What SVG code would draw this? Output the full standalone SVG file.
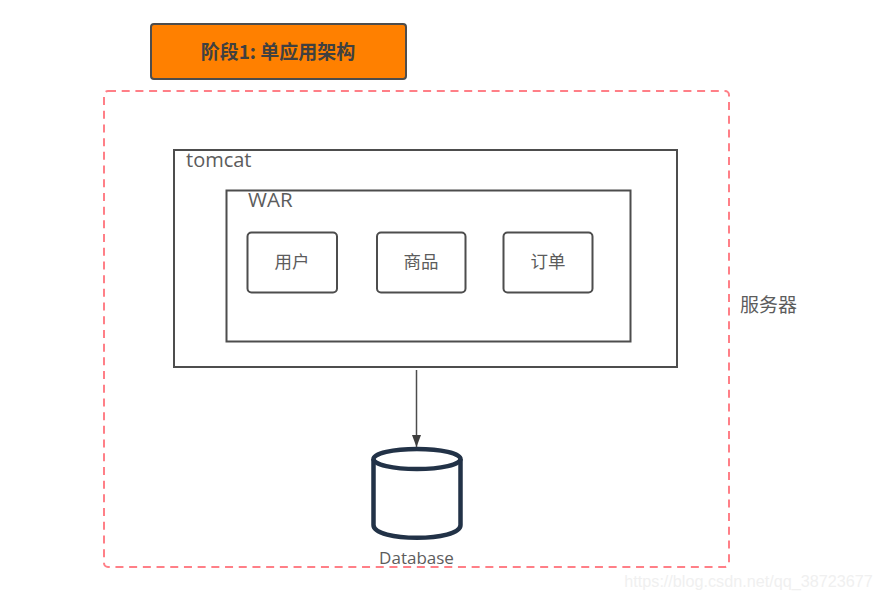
<svg xmlns="http://www.w3.org/2000/svg" width="881" height="600" viewBox="0 0 881 600">
<style>
text{font-family:"Open Sans","Noto Sans CJK SC",sans-serif;fill:#5c5c5c}
.cn{font-family:"Noto Sans CJK SC",sans-serif}
.box{fill:#fff;stroke:#4d4d4d;stroke-width:2}
.c{font-size:17.500px;text-anchor:middle}
</style>
<defs><marker id="arrow" markerUnits="userSpaceOnUse" markerWidth="12" markerHeight="14" refX="12" refY="5" orient="auto"><path d="M0 0.500L12 5L0 9.500Z" fill="#3d3d3d"/></marker></defs>
<rect width="881" height="600" fill="#fff"/>
<g id="title"><rect x="151" y="24" width="255" height="55" rx="3" fill="#ff8000" stroke="#4d4d4d" stroke-width="2"/><text class="cn" x="278" y="58.500" font-size="19" font-weight="700" text-anchor="middle" style="fill:#404040">阶段1: 单应用架构</text></g>
<g id="server"><rect x="104" y="91" width="625" height="476" rx="4" fill="none" stroke="#ff7f87" stroke-width="2" stroke-dasharray="8 5.700"/><text class="cn" x="740" y="312" font-size="19">服务器</text></g>
<g id="tomcat"><rect class="box" x="174" y="150" width="503" height="217"/><text x="186" y="167" font-size="20">tomcat</text></g>
<g id="war"><rect class="box" x="226.500" y="190.500" width="404" height="151"/><text x="248" y="207" font-size="20.500">WAR</text></g>
<g id="user"><rect class="box" x="247.500" y="232.500" width="89.500" height="60" rx="4"/><text class="c cn" x="292" y="268">用户</text></g>
<g id="product"><rect class="box" x="377" y="232.500" width="88.500" height="60" rx="4"/><text class="c cn" x="421" y="268">商品</text></g>
<g id="order"><rect class="box" x="503.500" y="232.500" width="89" height="60" rx="4"/><text class="c cn" x="548" y="268">订单</text></g>
<g id="database"><path d="M373.500 459A43.500 10 0 0 1 460.500 459V525C460.500 542 373.500 542 373.500 525Z" fill="#fff" stroke="#223247" stroke-width="4.500"/><path d="M373.500 459A43.500 10 0 0 0 460.500 459" fill="none" stroke="#223247" stroke-width="4.500"/><text x="416.500" y="563.500" font-size="17" text-anchor="middle">Database</text></g>
<g id="connectors"><path d="M416.500 370V447" fill="none" stroke="#4d4d4d" stroke-width="1.500" marker-end="url(#arrow)"/></g>
<text x="748.500" y="587" font-size="16.200" text-anchor="middle" style="font-family:'Liberation Sans',sans-serif;fill:#f0f0f0">https://blog.csdn.net/qq_38723677</text>
</svg>
